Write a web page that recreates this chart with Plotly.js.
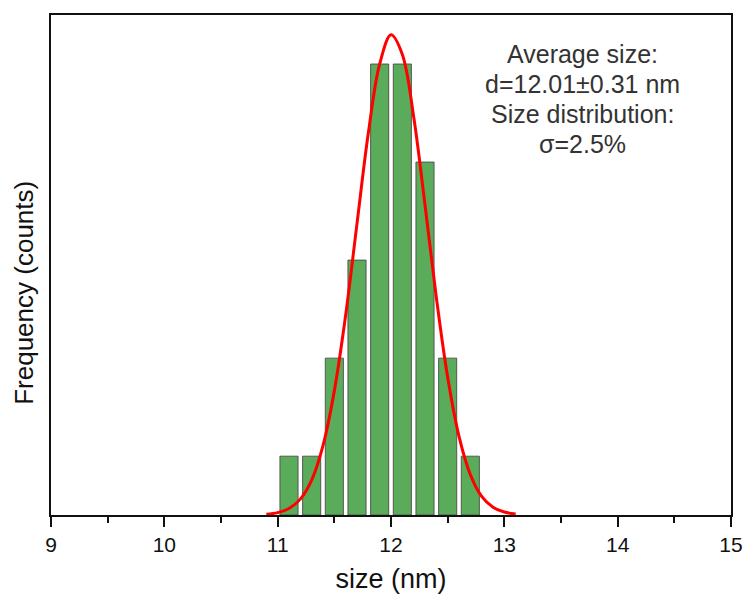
<!DOCTYPE html>
<html>
<head>
<meta charset="utf-8">
<script src="https://cdn.plot.ly/plotly-3.0.1.min.js"></script>
<style>html,body{margin:0;padding:0;background:#fff;}#chart{width:745px;height:594px;}</style>
</head>
<body>
<div id="chart"></div>
<script>
// Histogram bins (bin centres, nm) and counts
const binCenters = [11.1, 11.3, 11.5, 11.7, 11.9, 12.1, 12.3, 12.5, 12.7];
const binCounts  = [3, 3, 8, 13, 23, 23, 18, 8, 3];

// Red fitted curve
const fitX = [10.9, 11.0, 11.1, 11.2, 11.3, 11.4, 11.5, 11.6, 11.7, 11.8, 11.9, 12.0,
              12.1, 12.2, 12.3, 12.4, 12.5, 12.6, 12.7, 12.8, 12.9, 13.0, 13.1];
const fitY = [0.04, 0.12, 0.33, 0.81, 1.78, 3.54, 6.33, 10.2, 14.86, 19.48, 23.0, 24.49,
              23.49, 20.31, 15.82, 11.10, 7.02, 4.01, 2.06, 0.95, 0.40, 0.15, 0.05];

const xTickVals = [9, 10, 11, 12, 13, 14, 15];
const xTickText = ['9', '10', '11', '12', '13', '14', '15'];

const infoLines = ['Average size:', 'd=12.01±0.31 nm', 'Size distribution:', 'σ=2.5%'];

const FONT = 'Liberation Sans, Arial, sans-serif';

const traces = [
  {
    type: 'bar',
    x: binCenters,
    y: binCounts,
    width: 0.16,
    marker: {color: '#5aac5a', line: {color: 'rgba(70,70,70,0.85)', width: 1}},
    hoverinfo: 'skip'
  },
  {
    type: 'scatter',
    mode: 'lines',
    x: fitX,
    y: fitY,
    line: {color: '#ff0000', width: 3, shape: 'spline', smoothing: 1},
    hoverinfo: 'skip'
  }
];

const lineY = [0.922, 0.862, 0.802, 0.742];
const annotations = infoLines.map((t, i) => ({
  text: t, xref: 'paper', yref: 'paper', x: 0.782, y: lineY[i],
  xanchor: 'center', yanchor: 'middle', showarrow: false,
  font: {family: FONT, size: 25, color: '#333333'}
}));
annotations.push({
  text: 'Frequency (counts)', xref: 'paper', yref: 'paper', x: -0.04, y: 0.444,
  xanchor: 'center', yanchor: 'middle', textangle: -90, showarrow: false,
  font: {family: FONT, size: 26, color: '#111111'}
});

const layout = {
  width: 745, height: 594,
  margin: {l: 51, r: 14, t: 15, b: 79},
  paper_bgcolor: '#ffffff', plot_bgcolor: '#ffffff',
  showlegend: false,
  font: {family: FONT, color: '#111111'},
  xaxis: {
    range: [9, 15],
    tickvals: xTickVals, ticktext: xTickText,
    ticks: 'outside', ticklen: 10, tickwidth: 2, tickcolor: '#111',
    tickfont: {family: FONT, size: 21, color: '#111'},
    showline: true, linecolor: '#111', linewidth: 2, mirror: true,
    showgrid: false, zeroline: false,
    minor: {dtick: 0.5, ticks: 'outside', ticklen: 6, tickwidth: 2, tickcolor: '#111', showgrid: false},
    title: {text: 'size (nm)', font: {family: FONT, size: 27, color: '#111'}, standoff: 14}
  },
  yaxis: {
    range: [0, 25.5],
    showticklabels: false, ticks: '',
    showline: true, linecolor: '#111', linewidth: 2, mirror: true,
    showgrid: false, zeroline: false
  },
  bargap: 0,
  annotations: annotations
};

Plotly.newPlot('chart', traces, layout, {staticPlot: true, displayModeBar: false});
</script>
</body>
</html>
